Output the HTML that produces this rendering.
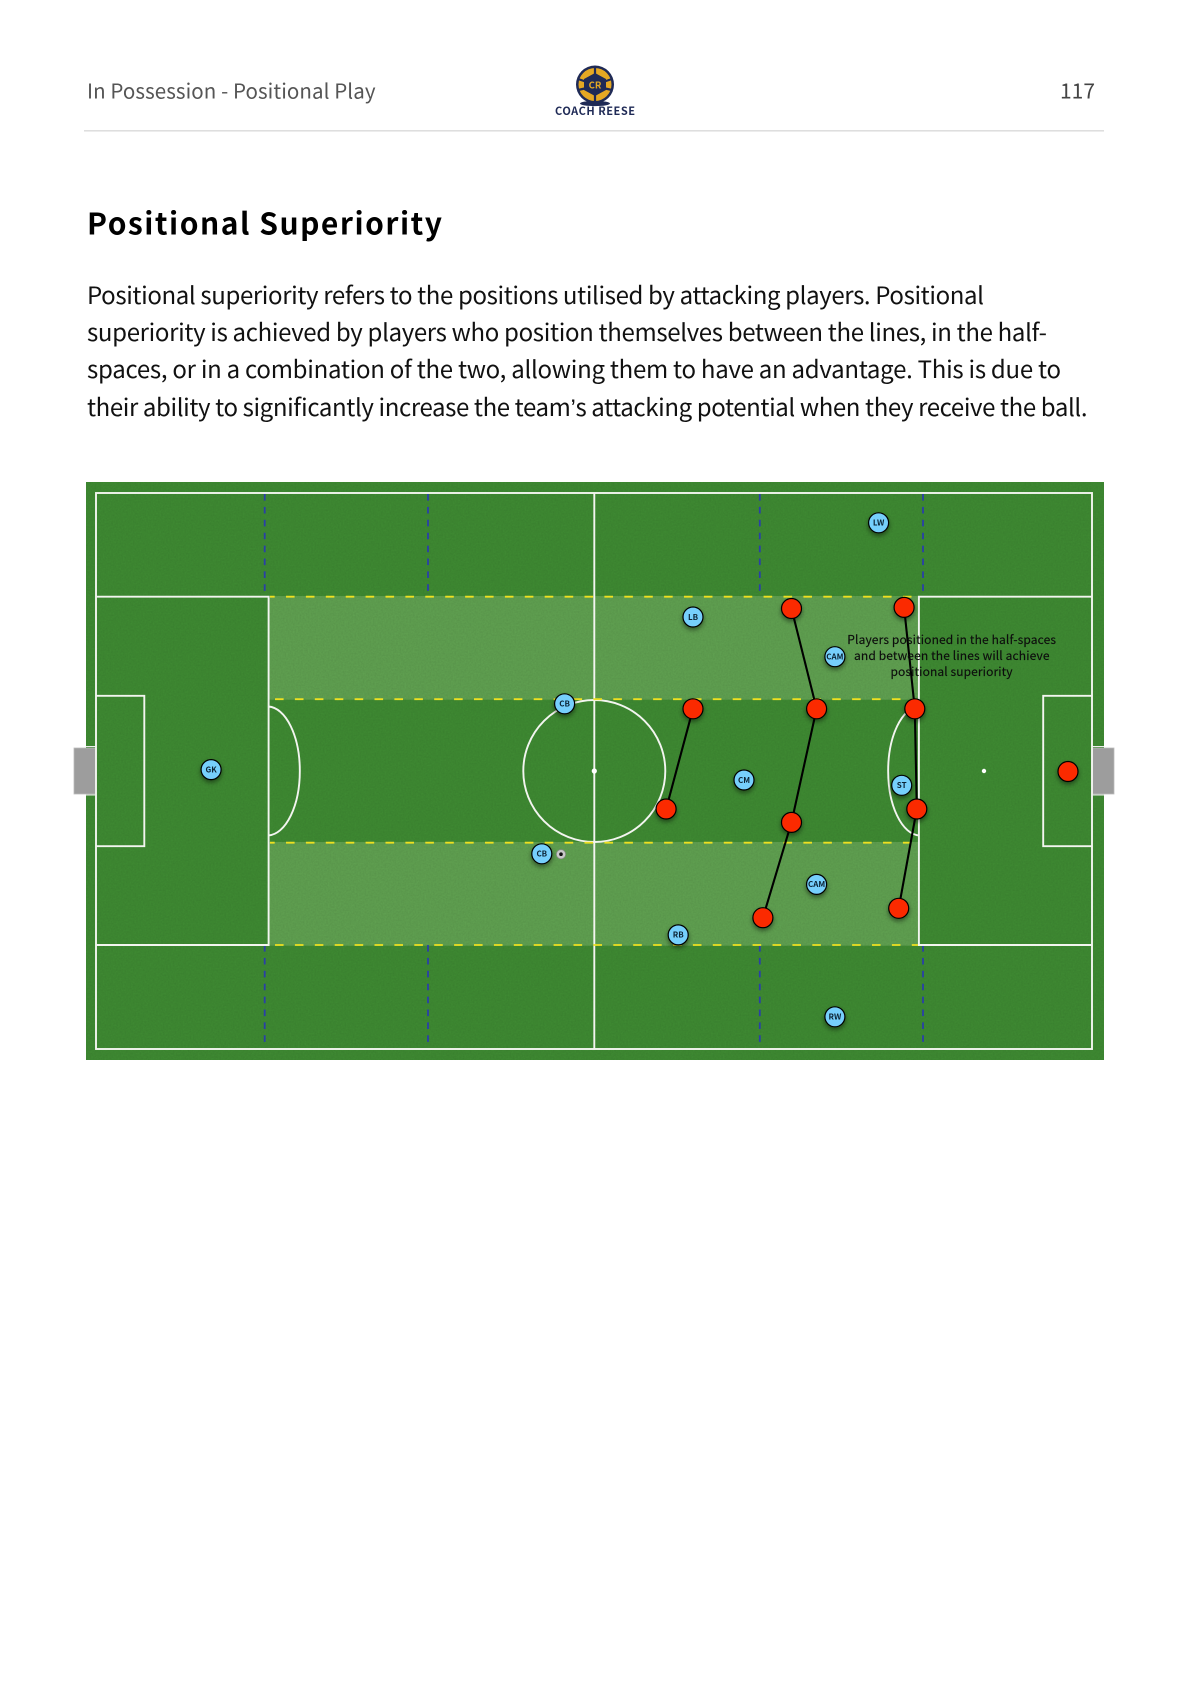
<!DOCTYPE html>
<html><head><meta charset="utf-8"><title>Positional Superiority</title>
<style>html,body{margin:0;padding:0;background:#fff}svg{display:block}
text{font-family:"Noto Sans CJK SC","Liberation Sans",sans-serif}
.a{font-family:"Liberation Sans",sans-serif}</style></head>
<body>
<svg xmlns="http://www.w3.org/2000/svg" width="1190" height="1684" viewBox="0 0 1190 1684">
<defs>
<filter id="n" x="0" y="0" width="100%" height="100%"><feTurbulence type="fractalNoise" baseFrequency="0.6" numOctaves="3" seed="4"/><feColorMatrix values="0 0 0 0 0  0 0 0 0 0  0 0 0 0 0  0.5 0 0 0 -0.12"/></filter>
<filter id="s" x="-60%" y="-60%" width="220%" height="220%"><feDropShadow dx="0" dy="2.5" stdDeviation="2.5" flood-color="#000" flood-opacity=".45"/></filter>
</defs>
<rect width="1190" height="1684" fill="#fff"/>
<!-- header -->
<text x="87" y="98.5" font-size="20.5" fill="#555" textLength="288.5" lengthAdjust="spacing">In Possession - Positional Play</text>
<text x="1060" y="98.5" font-size="21" fill="#444" textLength="35" lengthAdjust="spacing">117</text>
<rect x="84" y="130" width="1020" height="1.6" fill="#dedede"/>
<!-- logo -->
<g>
<ellipse cx="595" cy="103.5" rx="15" ry="2.6" fill="#1f2a56"/>
<circle cx="595" cy="84.5" r="19" fill="#1f2a56"/>
<circle cx="595" cy="84.5" r="16.5" fill="#e5a823"/>
<path d="M595 67V75M595 94V102M578 79L587 82M603 82L612 79M578 90L587 88M603 88L612 90" stroke="#1f2a56" stroke-width="2.2"/>
<polygon points="595,73 606,79 606,90 595,96 584,90 584,79" fill="#1f2a56"/>
<text x="595" y="88.5" font-size="9.5" font-weight="700" fill="#e5a823" text-anchor="middle">CR</text>
<text x="555" y="115" font-size="11" font-weight="700" fill="#1f2a56" textLength="80" lengthAdjust="spacing">COACH REESE</text>
</g>
<!-- heading + body -->
<text x="87" y="234.5" font-size="30" font-weight="700" fill="#000" textLength="355" lengthAdjust="spacing">Positional Superiority</text>
<g font-size="24" fill="#111">
<text x="87" y="304" textLength="897" lengthAdjust="spacing">Positional superiority refers to the positions utilised by attacking players. Positional</text>
<text x="87" y="341" textLength="960" lengthAdjust="spacing">superiority is achieved by players who position themselves between the lines, in the half-</text>
<text x="87" y="378" textLength="974" lengthAdjust="spacing">spaces, or in a combination of the two, allowing them to have an advantage. This is due to</text>
<text x="87" y="416" textLength="1000.5" lengthAdjust="spacing">their ability to significantly increase the team<tspan class="a">’</tspan>s attacking potential when they receive the ball.</text>
</g>
<!-- pitch -->
<rect x="86" y="482" width="1018" height="578" fill="#3e8932"/>
<rect x="269" y="596" width="650" height="103.7" fill="#5f9f50"/>
<rect x="269" y="842" width="650" height="103.7" fill="#5f9f50"/>
<rect x="86" y="482" width="1018" height="578" filter="url(#n)" opacity=".22"/>
<!-- goals -->
<path d="M86 746.5H96M86 795H96M1092 746.5H1104M1092 795H1104" stroke="#eee" stroke-width="1"/>
<rect x="74" y="748" width="22" height="46" fill="#9d9d9d" stroke="#bbb" stroke-width=".8"/>
<rect x="1092.5" y="748" width="21.5" height="46" fill="#9d9d9d" stroke="#bbb" stroke-width=".8"/>
<!-- half space lines -->
<g stroke="#2a3fa8" stroke-width="1.8" stroke-dasharray="6.6 6.3" fill="none">
<path d="M264.7 494V595M428 494V595M759.8 494V595M923 494V595"/>
<path d="M264.7 945V1044M428 945V1044M759.8 945V1044M923 945V1044"/>
</g>
<!-- pitch lines -->
<g fill="none" stroke="#f3f5f0" stroke-width="1.9">
<rect x="96" y="493" width="996" height="556"/>
<path d="M594.3 493V1049"/>
<path d="M96 596.7H268.6V945H96M1092 596.7H918.9V945H1092"/>
<path d="M96 695.8H144.3V846.2H96M1092 695.8H1043.2V846.2H1092"/>
<path d="M268.6 706.5A32.5 64.5 0 0 1 268.6 835.4M918.9 706.5A32 64.5 0 0 0 918.9 835.4"/>
<circle cx="594.3" cy="771" r="71"/>
</g>
<circle cx="594.3" cy="771" r="2.6" fill="#fff"/>
<circle cx="984" cy="771" r="2.2" fill="#fff"/>
<!-- yellow dashes -->
<g stroke="#eee020" stroke-width="1.8" stroke-dasharray="8.6 11.3" fill="none">
<path d="M270 596.7H914" stroke-dashoffset="3.9"/>
<path d="M275 699.2H914"/>
<path d="M270 842.7H918" stroke-dashoffset="3.9"/>
<path d="M275 945H918"/>
</g>
<!-- connectors -->
<g fill="none" stroke="#000" stroke-width="2.1">
<path d="M791.5 608.5L816.6 708.8L791.5 822.4L762.9 917.7"/>
<path d="M904.1 607.4L914.8 708.8L916.8 809L898.7 908.3"/>
<path d="M693 708.8L666.1 809"/>
</g>
<!-- blue players -->
<g fill="#76cffc" stroke="#000" stroke-width="1.2" filter="url(#s)">
<circle cx="211.1" cy="769.6" r="10"/>
<circle cx="564.6" cy="703.8" r="10"/>
<circle cx="541.8" cy="853.8" r="10"/>
<circle cx="878.6" cy="522.8" r="10"/>
<circle cx="693" cy="617" r="10"/>
<circle cx="834.9" cy="656.7" r="10"/>
<circle cx="744" cy="780" r="10"/>
<circle cx="901.7" cy="785.3" r="10"/>
<circle cx="816.6" cy="884.4" r="10"/>
<circle cx="678.2" cy="934.9" r="10"/>
<circle cx="834.9" cy="1016.8" r="10"/>
</g>
<g font-size="8" font-weight="700" fill="#0b2233" text-anchor="middle">
<text x="211.1" y="772.4">GK</text>
<text x="564.6" y="706.6">CB</text>
<text x="541.8" y="856.6">CB</text>
<text x="878.6" y="525.6">LW</text>
<text x="693" y="619.8">LB</text>
<text x="834.9" y="659.5">CAM</text>
<text x="744" y="782.8">CM</text>
<text x="901.7" y="788.1">ST</text>
<text x="816.6" y="887.2">CAM</text>
<text x="678.2" y="937.7">RB</text>
<text x="834.9" y="1019.6">RW</text>
</g>
<!-- red players -->
<g fill="#fb2a00" stroke="#000" stroke-width="1.2" filter="url(#s)">
<circle cx="791.5" cy="608.5" r="10"/>
<circle cx="904.1" cy="607.4" r="10"/>
<circle cx="693" cy="708.8" r="10"/>
<circle cx="816.6" cy="708.8" r="10"/>
<circle cx="914.8" cy="708.8" r="10"/>
<circle cx="666.1" cy="809" r="10"/>
<circle cx="916.8" cy="809" r="10"/>
<circle cx="791.5" cy="822.4" r="10"/>
<circle cx="762.9" cy="917.7" r="10"/>
<circle cx="898.7" cy="908.3" r="10"/>
<circle cx="1068" cy="771.5" r="10"/>
</g>
<!-- ball -->
<circle cx="561" cy="854.2" r="4.6" fill="#c9c9c9" stroke="#8a8a8a" stroke-width=".7"/>
<circle cx="561" cy="854.2" r="1.8" fill="#111"/>
<!-- annotation -->
<g font-size="12" fill="#0d0d0d" stroke="#0d0d0d" stroke-width=".15">
<text x="847.3" y="644" textLength="208.7" lengthAdjust="spacing">Players positioned in the half-spaces</text>
<text x="854" y="660" textLength="195.5" lengthAdjust="spacing">and between the lines will achieve</text>
<text x="890.5" y="676" textLength="122" lengthAdjust="spacing">positional superiority</text>
</g>
</svg>
</body></html>
